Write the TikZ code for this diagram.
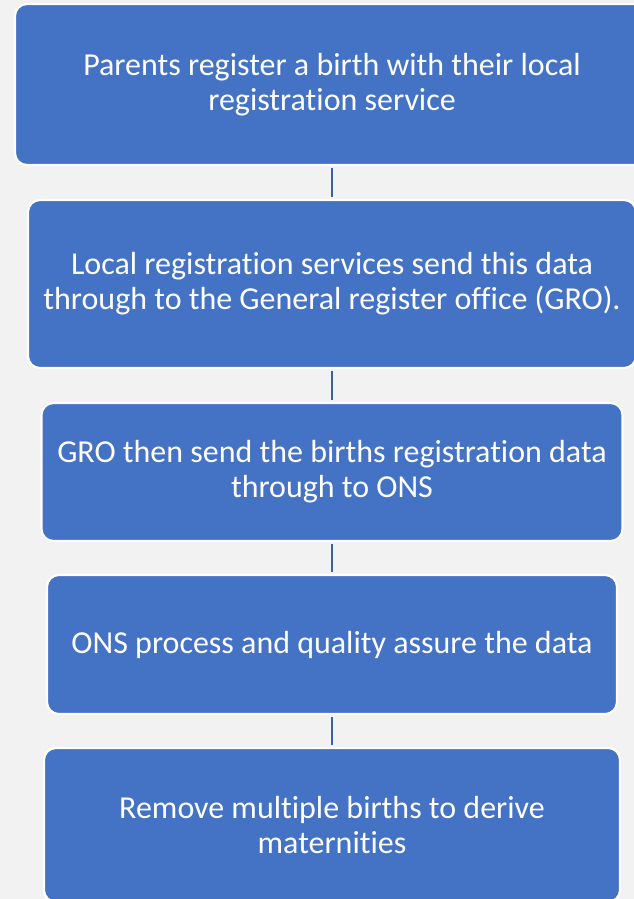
\documentclass[tikz,border=0pt]{standalone}
\usepackage{fontspec}
\setmainfont{Carlito}[Ligatures=NoCommon]
\definecolor{stepblue}{HTML}{4472C4}
\definecolor{linkblue}{HTML}{3A62AB}
\definecolor{paper}{HTML}{F2F2F2}

\begin{document}
\begin{tikzpicture}[
    font=\fontsize{18.2}{19.8}\selectfont,
    % Stile für die Kästen und Verbindungen
    stepbox/.style={draw=white, line width=1.2pt, fill=stepblue, text=white,
        rounded corners=0.24cm, align=center, inner sep=0pt},
    link/.style={draw=linkblue, line width=1.4pt, shorten <=1pt, shorten >=1pt}
]

    % ==========================================
    % HINTERGRUND
    % ==========================================
    \fill[paper] (0,0) rectangle (12.68,-17.98);
    \clip (0,0) rectangle (12.68,-17.98);

    % ==========================================
    % SCHRITTE
    % ==========================================
    \node[stepbox, minimum width=12.68cm, minimum height=3.22cm] (reg) at (6.64,-1.69)
        {Parents register a birth with their local\\registration service};

    \node[stepbox, minimum width=12.16cm, minimum height=3.36cm] (local) at (6.64,-5.68)
        {Local registration services send this data\\through to the General register office (GRO).};

    \node[stepbox, minimum width=11.62cm, minimum height=2.76cm] (gro) at (6.64,-9.44)
        {GRO then send the births registration data\\through to ONS};

    \node[stepbox, minimum width=11.40cm, minimum height=2.78cm] (ons) at (6.64,-12.89)
        {ONS process and quality assure the data};

    \node[stepbox, minimum width=11.52cm, minimum height=3.08cm] (mat) at (6.64,-16.50)
        {Remove multiple births to derive\\maternities};

    % ==========================================
    % VERBINDUNGEN
    % ==========================================
    \draw[link] (reg) -- (local);
    \draw[link] (local) -- (gro);
    \draw[link] (gro) -- (ons);
    \draw[link] (ons) -- (mat);

\end{tikzpicture}
\end{document}
